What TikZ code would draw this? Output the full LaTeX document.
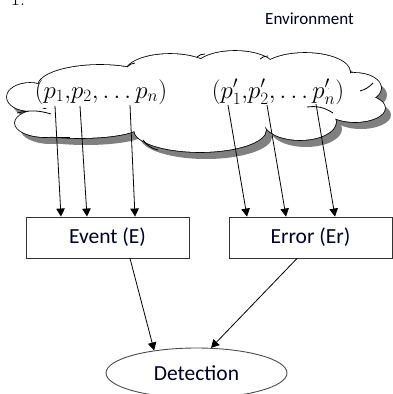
\documentclass[tikz,border=0pt]{standalone}
\usepackage{fontspec}
\newfontfamily\carl{Carlito}
\usetikzlibrary{arrows.meta,shapes.geometric}
\tikzset{
  arr/.style={line width=0.8pt,-{Triangle[length=8pt,width=8.5pt]}},
  boxnode/.style={draw=black!80,line width=0.9pt,minimum width=163pt,minimum height=41pt,inner sep=0pt,font=\carl\fontsize{21.5}{25}\selectfont,text=black!85!blue},
  ellnode/.style={draw=black!70,line width=0.9pt,ellipse,minimum width=181pt,minimum height=50pt,inner sep=0pt,font=\carl\fontsize{21.5}{25}\selectfont,text=black!85!blue},
  mathnode/.style={inner sep=0pt,anchor=base,font=\fontsize{24}{28}\selectfont},
  crease/.style={line width=0.8pt}
}
\begin{document}
\begin{tikzpicture}[x=1pt,y=-1pt]
\useasboundingbox (0,0) rectangle (393,394);
\clip (0,0) rectangle (393,394);
% shadow
\begin{scope}[shift={(6,7)}]
\foreach \cx/\cy/\rx/\ry in {30/97/23/14,45/123/30/14,80/126/60/12,100/86/62/21,170/73/45/19,235/68/40/17,305/72/45/19,355/88/26/15,355/108/30/14,300/122/36/18,200/130/66/22,190/100/150/30}
  \fill[black!50] (\cx,\cy) ellipse [x radius=\rx pt, y radius=\ry pt];
\end{scope}
% outline
\foreach \cx/\cy/\rx/\ry in {30/97/23/14,45/123/30/14,80/126/60/12,100/86/62/21,170/73/45/19,235/68/40/17,305/72/45/19,355/88/26/15,355/108/30/14,300/122/36/18,200/130/66/22,190/100/150/30}
  \draw[line width=1.6pt] (\cx,\cy) ellipse [x radius=\rx pt, y radius=\ry pt];
\foreach \cx/\cy/\rx/\ry in {30/97/23/14,45/123/30/14,80/126/60/12,100/86/62/21,170/73/45/19,235/68/40/17,305/72/45/19,355/88/26/15,355/108/30/14,300/122/36/18,200/130/66/22,190/100/150/30}
  \fill[white] (\cx,\cy) ellipse [x radius=\rx pt, y radius=\ry pt];
% creases
\draw[crease] (17,113) to[bend left=15] (51,114);
\draw[crease] (57,137) -- (70,137);
\draw[crease] (143,140) to[bend right=20] (158,150);
\draw[crease] (307,107) to[bend left=20] (333,113);
\draw[crease] (360,91) to[bend right=15] (373,83);
\draw[crease] (127,67) to[bend left=20] (135,63);
\draw[crease] (197,57) to[bend left=20] (205,54);
\draw[crease] (260,59) to[bend left=20] (268,56);

% text
\node[anchor=base,inner sep=0pt,font=\carl\fontsize{17}{20}\selectfont,text=black!85!blue] (env) at (309.5,24) {Environment};
\node[anchor=base,inner sep=0pt,font=\fontsize{20}{24}\selectfont] (fig) at (18,5) {1:};
\node[mathnode] (g1) at (101,98) {$(p_1{,}p_2{,}\ldots p_n)$};
\node[mathnode] (g2) at (278,98) {$(p'_1{,}p'_2{,}\ldots p'_n)$};

\node[boxnode] (ev) at (107.5,237.5) {Event (E)};
\node[boxnode] (er) at (310.5,237.5) {Error (Er)};
\node[ellnode] (det) at (196.5,373) {Detection};

\coordinate (s1) at (55,106);
\coordinate (s2) at (80,106);
\coordinate (s3) at (130,105);
\coordinate (s4) at (228,105);
\coordinate (s5) at (267,105);
\coordinate (s6) at (316,104);

\draw[arr] (s1) -- ([xshift=-46.5pt]ev.north);
\draw[arr] (s2) -- ([xshift=-20.5pt]ev.north);
\draw[arr] (s3) -- ([xshift=27.5pt]ev.north);
\draw[arr] (s4) -- ([xshift=-63.5pt]er.north);
\draw[arr] (s5) -- ([xshift=-24.5pt]er.north);
\draw[arr] (s6) -- ([xshift=24.5pt]er.north);

\draw[arr] ([xshift=22.5pt]ev.south) -- (det.152);
\draw[arr] ([xshift=-13.5pt]er.south) -- (det.60);
\end{tikzpicture}
\end{document}
